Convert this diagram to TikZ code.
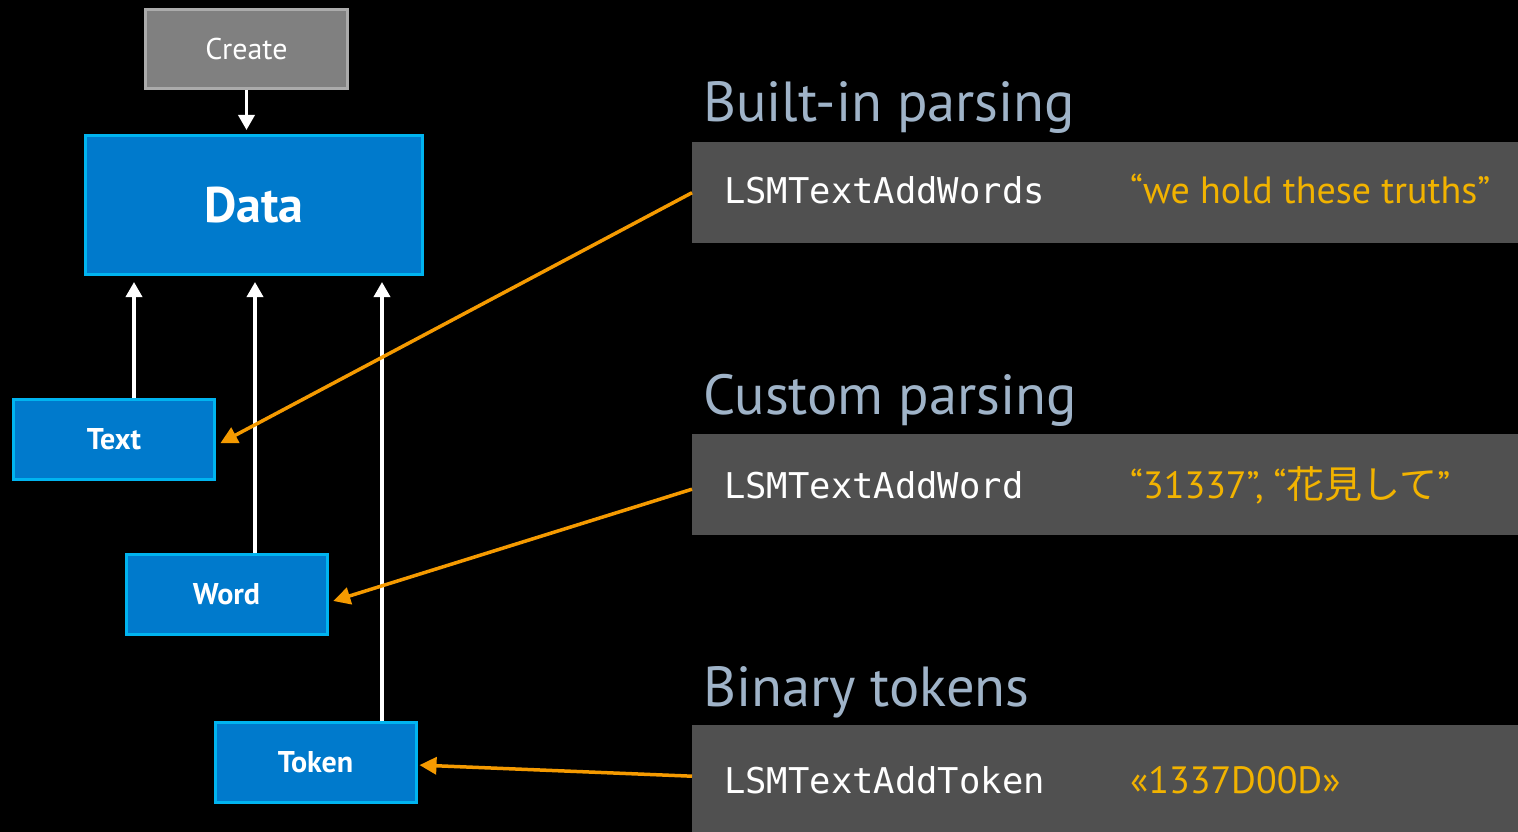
\documentclass[tikz,border=0pt]{standalone}
\usepackage{fontspec}
\setmainfont{PT Sans}
\newfontfamily\codefont{DejaVu Sans Mono}
\newfontfamily\cjk{Noto Sans CJK JP}
\usetikzlibrary{arrows.meta}
\definecolor{boxblue}{HTML}{007ACC}
\definecolor{boxedge}{HTML}{00B4F0}
\definecolor{creategray}{HTML}{808080}
\definecolor{createedge}{HTML}{ABABAB}
\definecolor{panelgray}{HTML}{505050}
\definecolor{headblue}{HTML}{9FB3C8}
\definecolor{quoteyellow}{HTML}{F2B300}
\definecolor{linkorange}{HTML}{F59A00}
\tikzset{
  bluebox/.style={draw=boxedge, fill=boxblue, line width=3pt, minimum width=201pt,
    minimum height=80pt, inner sep=0pt, text=white, font=\fontsize{30}{30}\selectfont\bfseries},
  createbox/.style={draw=createedge, fill=creategray, line width=3pt, minimum width=202pt,
    minimum height=79pt, inner sep=0pt, text=white, font=\fontsize{30}{30}\selectfont},
  databox/.style={bluebox, minimum width=337pt, minimum height=139pt,
    font=\fontsize{50}{50}\selectfont\bfseries},
  panel/.style={fill=panelgray, minimum width=826pt, inner sep=0pt, anchor=north west},
  heading/.style={anchor=base west, inner sep=0pt, text=headblue,
    font=\fontsize{56.5}{56.5}\selectfont},
  apicall/.style={anchor=base west, inner sep=0pt, text=white,
    font=\fontsize{35.5}{35.5}\codefont},
  sample/.style={anchor=base west, inner sep=0pt, text=quoteyellow,
    font=\fontsize{38}{38}\selectfont},
  feed/.style={draw=white, line width=3.5pt, -{Triangle[length=15pt,width=16pt]}},
  link/.style={draw=linkorange, line width=3.5pt, -{Triangle[length=17pt,width=17pt]}},
}
\begin{document}
\begin{tikzpicture}[x=1pt, y=-1pt]
  \fill[black] (0,0) rectangle (1518,832);
  \useasboundingbox (0,0) rectangle (1518,832);

  % left column: object boxes
  \node[createbox] (create) at (246.5,49) {Create};
  \node[databox]   (data)   at (254,205)  {Data};
  \node[bluebox]   (text)   at (114,439.5) {Text};
  \node[bluebox]   (word)   at (226.5,594.5) {Word};
  \node[bluebox]   (token)  at (315.5,762.5) {Token};

  % right column: API panels
  \node[panel, minimum height=101pt] (p1) at (692,142) {};
  \node[panel, minimum height=101pt] (p2) at (692,434) {};
  \node[panel, minimum height=107pt] (p3) at (692,725) {};

  \node[heading] (h1) at (703,122) {Built-in parsing};
  \node[heading] (h2) at (703,414) {Custom parsing};
  \node[heading] (h3) at (703,706) {Binary tokens};

  \node[apicall] (c1) at (724,204) {LSMTextAddWords};
  \node[apicall] (c2) at (724,498) {LSMTextAddWord};
  \node[apicall] (c3) at (724,793) {LSMTextAddToken};

  \node[sample] (s1) at (1130,204) {“we hold these truths”};
  \node[sample] (s2) at (1130,498) {“31337”, “{\cjk 花見して}”};
  \node[sample] (s3) at (1130,793) {«1337D00D»};

  % white arrows into Data
  \draw[feed, shorten >=4pt] (create.south) -- (create.south |- data.north);
  \draw[feed, shorten >=6pt] ([xshift=20pt]text.north) -- ([xshift=20pt]text.north |- data.south);
  \draw[feed, shorten >=6pt] ([xshift=28.5pt]word.north) -- ([xshift=28.5pt]word.north |- data.south);
  \draw[feed, shorten >=6pt] ([xshift=66.5pt]token.north) -- ([xshift=66.5pt]token.north |- data.south);

  % orange links from the API panels
  \draw[link, shorten >=5pt] (p1.west) -- ([yshift=-6pt]text.east);
  \draw[link, shorten >=5pt] ([yshift=-4.5pt]p2.west) -- ([yshift=-8pt]word.east);
  \draw[link, shorten >=2pt] ([yshift=2.5pt]p3.west) -- ([yshift=-2.5pt]token.east);
\end{tikzpicture}
\end{document}
